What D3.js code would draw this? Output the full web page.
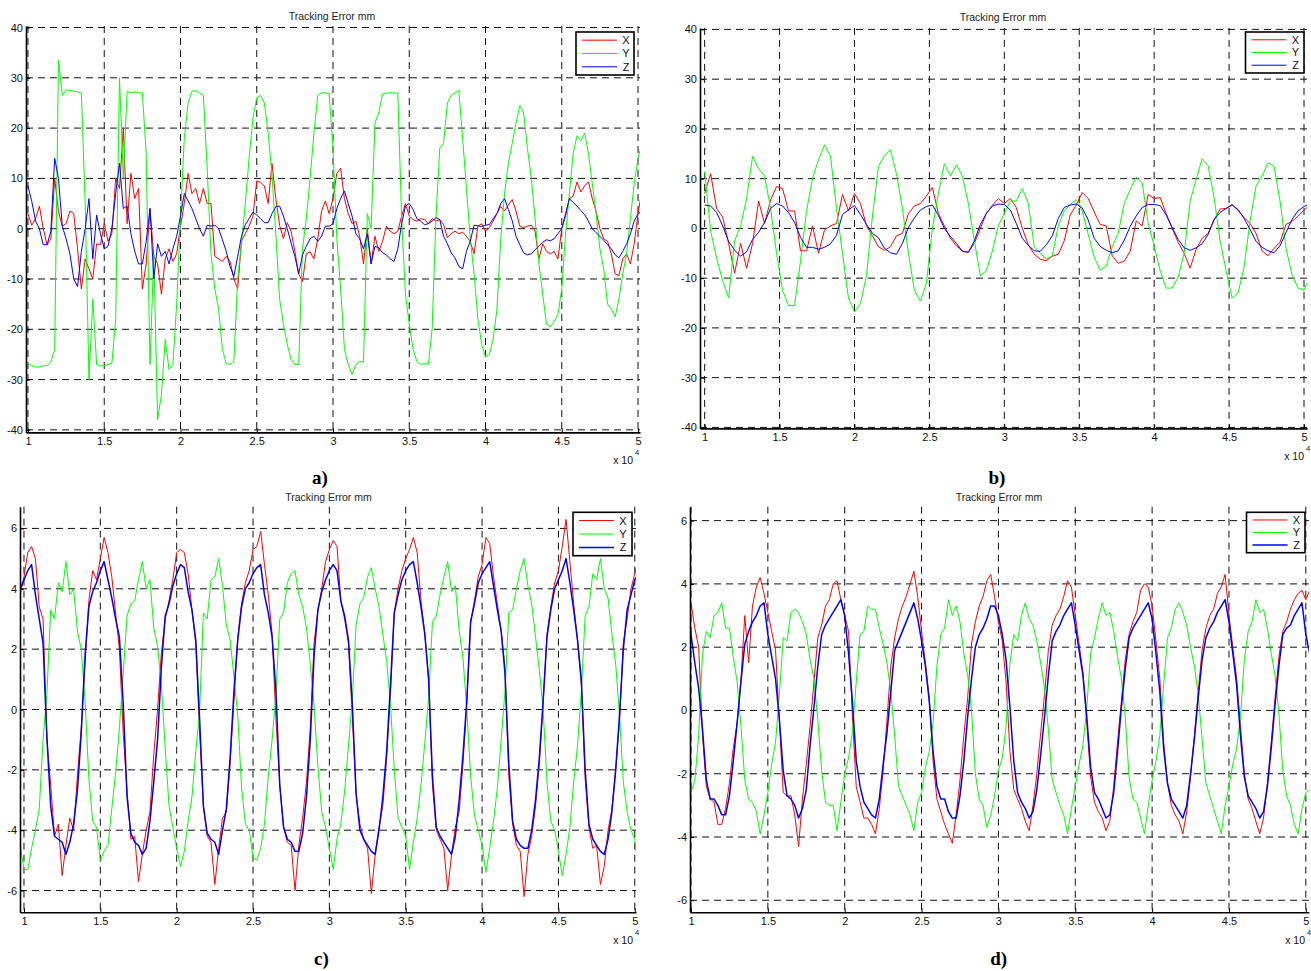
<!DOCTYPE html>
<html>
<head>
<meta charset="utf-8">
<script src="https://cdn.jsdelivr.net/npm/d3@7"></script>
<style>
  body { margin: 0; background: #fff; }
  text { font-family: "Liberation Sans", Arial, sans-serif; }
</style>
</head>
<body>
<script>
var w = 1311,
  h = 971;

// sample grids (x in units of 1e4)
var startA = 1.0, stepA = 0.025;
var startB = 1.0, stepB = 0.04;
var startCD = 0.975, stepCD = 0.025;

var xTicks = [1, 1.5, 2, 2.5, 3, 3.5, 4, 4.5, 5];
var yTicksAB = [-40, -30, -20, -10, 0, 10, 20, 30, 40];
var yTicksCD = [-6, -4, -2, 0, 2, 4, 6];
var seriesNames = ['X', 'Y', 'Z'];
var seriesColors = ['#ff0000', '#00ff00', '#0000ff'];

// panel a
var errXa = [3, 0.7, 2, 4.5, 0, -3.2, -2, 10, 3.4, 0.5, 1, 3.5, 3, -4, -12, -6, -8, -10, -3, -3.2,
  1, -2.5, -1, 10, 8, 20, 1, 11, 6, 8, -12, -7, 4, -5.5, -7, -13, -6, -4, -6.5, -5,
  0.5, 5, 11, 7, 8, 5, 8, 5, 5, -5.5, -6, -6.5, -5.5, -6.5, -10, -12, -2.5, -1, 0.5, 2.5,
  9.5, 9.2, 8.5, 5, 13, 6, 0.7, -2, 1.2, -0.5, -4.5, -9, -10.5, -5, -4.6, -6, -2, 3.5, 5.5, 3,
  6, 11, 12, 6, 3, 1, 1.5, -1.5, -7, 0, -7, -1.5, -4.5, -2.5, 0.5, -0.5, -1, -0.5, 2.5, 5,
  2.5, 1.8, 1.5, 2, 1.8, 1, 2, 1.5, 1.8, 0.8, -1.8, -1, -0.5, -1, -0.7, -1.5, -2.6, -5, 0.5, 1,
  -0.5, 0.2, 1.5, 3, 4.4, 3.5, 4.7, 5.8, 3.5, 0.5, 0.2, 0.5, 0.7, -0.5, -6, -3, -4.5, -5, -4.5, -6,
  0, 2.5, 6, 6.5, 9.3, 7.3, 8.5, 9.3, 6, 3.5, 0, -2, -2.5, -5, -9, -9.3, -6, -5, -7, -3,
  3, 7.5];
var errYa = [-26.8, -27.2, -27.5, -27.5, -27.3, -27.2, -26.5, -24, 33.5, 26.5, 27.6, 27.5, 27.3, 27.2, 27, 5, -30, -14, -27, -27.3,
  -27.2, -27, -26.8, -18, 30, 10, 27.3, 27, 27.2, 27, 27, 15, -27, -5, -38, -33, -22, -28, -27, -15,
  2, 18, 25, 27.3, 27.5, 27, 26.5, 12, -5, -12, -16, -24, -26.8, -27, -26.4, -10, -3, 5, 14, 22,
  26, 26.5, 25, 19, 10.7, -1, -14, -19, -23, -26, -27, -27, -4, 2, 10, 19, 26.5, 27, 27, 26.8,
  16, -2, -12, -24, -27, -29, -27, -26.4, -26.5, 3, 0, 21, 23, 26.8, 27, 27, 27, 27, 2, -13,
  -19, -24, -26.4, -27, -26.8, -27, -20, 2, 16, 17, 25, 26.5, 27, 27.5, 18, 8, -2, -9, -18, -23,
  -25.5, -25, -22, -16, -2, 7, 13, 17, 21, 24.5, 23, 16, 10, 2, -7, -13, -19, -19.5, -18.5, -17,
  -12, -1, 7, 15, 18.5, 17.5, 19, 15, 9, 3, -4, -8, -15, -16, -17.5, -14, -9, -5, 2, 9,
  14, 17];
var errZa = [8.5, 5.4, 1.5, 0, -3.2, -3.2, -0.5, 14, 10, 0.5, -2, -5, -10, -11.5, -4.5, 0, 6, -6, 2.7, -1,
  -4, -3.5, 0, 7, 13, 4, 4.5, -1, -4.5, -7, -7, -2.5, 4, -10, -3, -5.5, -4.5, -7, -4, -1.5,
  2.5, 7, 5.5, 4, 2, 0, -1.5, 0.7, 0.5, 0.7, 0, -2.2, -4.5, -7.5, -9.5, -5.5, -1.5, 0.8, 2, 3.3,
  2.7, 2, 1.2, 1.2, 3, 4.4, 4.5, 2.5, 0, -2.8, -5.5, -9, -5.2, -3.5, -2, -1.5, -2.5, -1.5, 0.5, 0.5,
  1, 4, 6, 7.5, 5, 2.5, -1, -2, -4, -1, -7, -3.5, -3.8, -4.8, -5.2, -6, -6.5, -4, 1, 4.5,
  5, 3.8, 2, 1.5, 0.8, 1, 1.5, 2.2, 1.8, -1.5, -3, -4.8, -5.8, -7.5, -8, -4.5, -2.5, 0.7, 0.6, 0.4,
  0.7, 0.8, 2, 3, 5, 6, 3.8, 1.6, -1.5, -3.2, -4.8, -5.2, -5, -4.2, -3.5, -2.7, -2.2, -2.4, -2, -1,
  0, 3, 6, 5.2, 4.5, 3.6, 2.8, 1.5, 0, -0.8, -1.5, -2.3, -3.2, -4, -5.2, -5.8, -4.5, -3, -1, 1.5,
  3, 3.4];

// panel b
var errXb = [7, 11, 4, 2.3, -3, -9, -3, -8, -3, 5.5, 1, 5.7, 8.4, 8, 3.5, 3.5, -4.5, -4.5, 0.5, -5, -0.3, 0.5, 1, 6.8, 3.5,
  7, 5, 0.5, -1.5, -3.7, -4.4, -3.7, -1.5, -1, 3, 4.5, 5, 6.5, 8.2, 3, 0.5, -2, -3.5, -4.5, -4.8, -3, 0, 3, 4.6, 6,
  5, 6, 4.2, 0, -3.3, -5.2, -6.2, -6.5, -5.6, -5.2, -2.5, 2.7, 4.7, 7.2, 6, 3.3, 0.8, 0.5, -5.5, -7, -6.6, -4.6, 1.5, 0.5, 6.8,
  6, 6.2, 3, 0, -2.8, -5, -8, -4.2, -2, -1, 1.7, 3.9, 4, 4.8, 3.6, 2.2, 1, -1, -4.5, -5.5, -4, -2.8, 0.8, 1.4, 2.5,
  3.7, 4.7];
var errYb = [11.4, -0.5, -6, -10.5, -14, -2.5, 0.5, 6, 14.5, 12, 10.5, 4, -5, -12.5, -15.5, -15.5, -6.5, 3.5, 10, 13.8, 16.8, 14.5, 4, -5, -14,
  -16.8, -15.1, -9.5, 2.5, 12.5, 14.6, 15.8, 11, 4, -5, -12.5, -14.6, -11, 0, 7, 13, 10.5, 12.8, 10.5, 5, -2.5, -9.5, -8.5, -4.6, 0.5,
  3, 5.5, 5.5, 8, 5, -3.7, -5, -6.2, -5.5, 0.5, 3.5, 4.8, 5.8, 3.5, -1.2, -5.8, -8.4, -7.6, -3.7, -1, 5, 7.8, 10.3, 9.2, 1,
  -3.5, -8.5, -12, -12, -9.8, -5, 5.5, 9.8, 14, 12.6, 6.2, -2.5, -8.5, -14, -13, -7.8, 1.5, 8.5, 10.5, 13.2, 12.5, 5.5, -4, -9.3, -12,
  -12.4, -9.7];
var errZb = [4.7, 4.5, 3.2, 0.5, -2.6, -4.4, -5.6, -4.7, -2.2, -0.8, 1.2, 4, 5, 4.5, 3.2, 1.2, -1.8, -3.8, -3.8, -4.2, -3.8, -3.1, -1.4, 2.8, 3.7,
  4.6, 2.8, 0.8, -1, -1.9, -4, -4.9, -5.2, -3, 0.2, 2.1, 3.7, 4.4, 4.7, 2.6, 0, -1.6, -3, -4.6, -4.8, -2.5, 0.8, 3, 4.5, 4.9,
  4.8, 3.7, 1, -2, -3.4, -4.5, -4.6, -3.3, -1.5, 2, 4.2, 4.7, 4.9, 4.1, 1.7, -2, -3.6, -4.4, -4.9, -4.5, -2.4, 0.4, 2.5, 4.2, 4.8,
  4.8, 4.6, 2.7, 0.2, -2.2, -3.9, -4.4, -3.9, -3.1, -1.2, 1.8, 3.2, 4, 4.7, 3.8, 2, -0.2, -2.6, -3.8, -4.5, -4.9, -3.5, -0.8, 1.8, 3.5,
  4.4, 5];

// panel c
var errXc = [3.8,
  4.4, 5.2, 5.4, 5.0, 3.4, 3.0, -1.0, -2.5, -4.2, -3.8, -5.5, -4.5, -3.6, -4.0, -2.2, -0.6, 1.5, 3.6, 4.6, 4.3,
  5.0, 5.7, 5.2, 4.4, 3.2, 2.0, -0.8, -2.7, -4.3, -4.2, -5.7, -4.8, -4.0, -3.4, -1.5, 0, 1.9, 3.0, 3.6, 4.3,
  5.2, 5.3, 5.2, 4.5, 3.3, 2.2, -0.7, -3.2, -4.2, -4.4, -5.8, -4.6, -3.6, -3.4, -1.8, 0.3, 2.4, 3.5, 4.2, 4.6,
  5.3, 5.4, 5.9, 4.8, 3.8, 2.5, -0.3, -2.5, -3.9, -4.4, -4.5, -6.0, -4.5, -3.6, -2.4, -0.6, 2.2, 3.3, 4.0, 4.9,
  5.3, 5.6, 5.4, 3.6, 3.0, 2.2, -0.2, -2.8, -3.8, -4.3, -4.6, -6.1, -4.8, -3.9, -3.2, -1.6, 0.5, 3.2, 4.0, 4.6,
  5.0, 5.3, 5.7, 5.2, 3.6, 2.5, 1.0, -2.5, -4.0, -4.3, -4.6, -6.0, -4.8, -3.9, -3.4, -1.8, 0.2, 2.9, 3.6, 4.4,
  4.8, 5.7, 5.5, 4.4, 3.5, 2.6, 1.4, -2.2, -3.8, -4.5, -4.7, -6.2, -4.8, -4.2, -3.2, -1.8, 0.2, 2.5, 3.4, 4.2,
  4.6, 5.4, 6.3, 4.9, 3.5, 2.3, 0.8, -2.3, -3.9, -4.6, -4.5, -5.8, -5.2, -4.0, -3.3, -2.0, -0.4, 2.2, 3.0, 4.0,
  4.5, 5.0];
var errYc = [-4.5,
  -5.3, -5.3, -4.6, -4.0, -3.3, -1.0, 0.5, 3.3, 3.0, 4.2, 3.9, 4.9, 3.8, 4.0, 2.6, 2.0, 0.3, -2.3, -3.7, -3.9,
  -5.0, -4.7, -4.5, -3.3, -2.1, -0.6, 1.2, 3.1, 3.5, 3.6, 4.3, 4.9, 4.0, 4.3, 2.7, 2.1, 0.8, -1.3, -3.2, -3.9,
  -4.6, -5.2, -4.7, -3.7, -2.9, -1.4, -0.1, 3.2, 3.0, 4.3, 4.4, 5.0, 4.1, 2.8, 2.3, 1.1, -0.2, -2.6, -3.8, -4.0,
  -4.9, -5.0, -4.6, -3.8, -2.2, -1.0, 0.5, 3.0, 3.2, 4.2, 4.5, 4.6, 3.8, 3.4, 2.7, 1.5, 0.1, -1.9, -3.4, -3.9,
  -4.6, -5.3, -4.3, -3.8, -2.7, -1.2, 0.3, 2.8, 3.5, 3.7, 4.4, 4.7, 4.0, 3.4, 2.5, 1.6, 0.2, -2.0, -3.6, -3.9,
  -4.2, -5.3, -4.4, -3.6, -2.5, -1.1, 0.4, 2.9, 3.1, 3.8, 4.4, 4.9, 3.9, 4.1, 2.6, 1.7, 0.0, -2.2, -3.5, -4.0,
  -4.5, -5.4, -4.6, -3.7, -2.6, -1.0, 0.6, 3.2, 3.3, 4.0, 4.6, 5.0, 4.1, 3.5, 2.4, 1.3, 0.0, -2.4, -3.7, -4.0,
  -4.7, -5.5, -4.8, -3.9, -2.4, -1.2, 0.6, 3.1, 3.4, 4.5, 4.3, 5.0, 4.0, 3.7, 2.5, 1.5, -0.2, -2.4, -3.4, -4.0,
  -4.3, -5.4];
var errZc = [4.0,
  4.3, 4.6, 4.8, 3.8, 3.0, 2.2, -0.9, -3.2, -4.2, -4.3, -4.4, -4.8, -4.4, -3.8, -2.7, -0.8, 1.8, 3.4, 3.9, 4.2,
  4.6, 4.9, 4.3, 3.7, 3.0, 2.4, 0.2, -2.9, -4.1, -4.4, -4.5, -4.8, -4.6, -3.7, -2.4, -1.0, 1.4, 3.1, 3.5, 4.1,
  4.5, 4.8, 4.7, 3.9, 3.3, 2.3, -0.3, -3.2, -4.1, -4.3, -4.4, -4.8, -4.0, -3.3, -1.6, 0.6, 2.3, 3.4, 4.0, 4.2,
  4.5, 4.7, 4.8, 3.8, 3.2, 2.4, 0.6, -2.5, -3.9, -4.3, -4.4, -4.7, -4.7, -4.1, -2.9, -1.0, 1.8, 3.3, 3.9, 4.3,
  4.6, 4.8, 4.6, 3.6, 3.1, 2.3, 0.2, -2.8, -4.0, -4.3, -4.5, -4.7, -4.8, -4.0, -2.9, -1.4, 0.8, 3.2, 3.8, 4.3,
  4.6, 4.8, 4.9, 4.2, 3.4, 2.5, 1.0, -2.2, -3.9, -4.2, -4.4, -4.6, -4.8, -4.2, -3.0, -1.5, 0.3, 2.9, 3.5, 4.2,
  4.5, 4.7, 4.9, 4.1, 3.3, 2.6, 1.2, -1.8, -3.7, -4.3, -4.5, -4.6, -4.6, -4.0, -3.0, -1.6, 0.3, 2.4, 3.3, 4.0,
  4.3, 4.6, 5.0, 4.2, 3.3, 2.3, 1.0, -2.0, -3.8, -4.3, -4.5, -4.7, -4.8, -4.3, -3.4, -2.0, -0.2, 2.0, 3.3, 3.8,
  4.3, 4.5];

// panel d
var errXd = [3.3,
  3.4, 2.6, 2.0, -0.8, -2.4, -2.8, -2.9, -3.6, -3.6, -3.1, -2.3, -1.2, -0.4, 1.0, 3.0, 1.5, 3.3, 3.9, 4.2, 3.7,
  3.1, 2.5, 1.9, -0.3, -2.6, -2.7, -2.7, -3.3, -4.3, -2.8, -1.7, -0.5, 0.9, 2.3, 2.7, 3.3, 3.5, 4.0, 4.1, 3.5,
  3.0, 2.5, -0.2, -2.4, -2.9, -3.4, -3.4, -3.6, -3.9, -3.1, -1.9, -0.3, 1.4, 2.3, 2.9, 3.3, 3.6, 4.0, 4.4, 3.6,
  2.5, 1.5, 0.4, -1.6, -2.8, -3.2, -3.6, -3.9, -4.2, -3.3, -2.2, -0.8, 0.4, 2.1, 2.8, 3.3, 3.6, 4.1, 4.3, 3.6,
  2.8, 2.2, 0.9, -1.3, -2.5, -2.8, -3.1, -3.5, -3.8, -3.0, -2.0, -0.7, 0.5, 1.9, 2.7, 3.0, 3.2, 3.6, 4.1, 3.9,
  3.0, 2.1, 1.2, -0.4, -2.1, -2.9, -3.2, -3.4, -3.8, -3.5, -2.4, -1.0, 0.3, 1.6, 2.4, 2.8, 3.1, 3.8, 4.0, 3.9,
  3.3, 2.2, 1.0, -1.0, -2.3, -3.0, -3.3, -3.5, -3.9, -3.2, -2.1, -0.8, 0.6, 1.9, 2.6, 3.0, 3.2, 3.7, 3.9, 4.3,
  3.0, 2.0, 1.0, -0.5, -2.0, -2.8, -3.1, -3.5, -3.9, -3.4, -2.3, -1.0, 0.4, 1.7, 2.5, 2.8, 3.2, 3.5, 3.7, 3.8,
  3.5, 3.8];
var errYd = [-3.3,
  -2.6, -2.2, -0.8, 1.8, 2.5, 2.3, 3.0, 3.1, 3.4, 2.6, 2.6, 1.7, 0.9, -0.5, -2.2, -2.8, -2.9, -3.2, -3.9, -3.3,
  -2.6, -1.7, -1.0, 0.5, 2.3, 2.2, 3.1, 3.2, 3.1, 2.8, 2.4, 1.6, 1.0, -0.3, -1.9, -2.9, -3.0, -3.0, -3.8, -2.9,
  -2.0, -1.5, -0.7, 0.9, 2.4, 2.5, 3.3, 3.2, 3.2, 2.6, 2.1, 1.5, 0.6, -0.8, -2.4, -2.7, -3.0, -3.3, -3.8, -2.9,
  -2.6, -1.8, -1.3, -0.4, 1.4, 2.4, 2.6, 3.5, 3.0, 3.3, 2.8, 1.8, 1.1, 0.0, -2.0, -2.8, -3.0, -3.7, -3.3, -2.7,
  -1.9, -1.5, -0.5, 1.5, 2.4, 2.2, 3.0, 3.4, 2.9, 2.7, 2.2, 1.5, 0.7, -0.6, -2.2, -2.6, -3.0, -3.3, -3.9, -3.1,
  -2.4, -1.7, -1.1, 0.1, 1.8, 2.3, 2.9, 3.4, 3.0, 3.1, 2.5, 1.7, 1.0, -0.2, -2.1, -2.8, -2.9, -3.4, -3.9, -3.0,
  -2.2, -1.6, -0.8, 0.8, 2.3, 2.6, 3.2, 3.4, 3.1, 2.7, 2.0, 1.4, 0.5, -0.9, -2.3, -2.7, -3.1, -3.5, -3.9, -3.0,
  -2.4, -1.7, -1.2, -0.2, 1.6, 2.5, 2.8, 3.5, 3.1, 3.2, 2.6, 1.8, 1.1, -0.1, -1.9, -2.7, -3.0, -3.6, -3.9, -3.1,
  -2.6, -2.5];
var errZd = [3.3,
  2.4, 1.5, 0.7, -0.6, -2.2, -2.8, -2.8, -3.0, -3.3, -3.3, -2.7, -1.6, -0.4, 0.9, 2.1, 2.5, 2.8, 3.0, 3.3, 3.4,
  2.4, 1.7, 1.0, -0.3, -1.9, -2.7, -2.8, -3.0, -3.4, -3.1, -2.5, -1.1, 0.1, 1.4, 2.4, 2.7, 2.9, 3.1, 3.3, 3.5,
  3.0, 1.8, 0.3, -1.6, -2.4, -2.9, -3.1, -3.3, -3.4, -2.8, -1.7, -0.7, 0.6, 1.9, 2.2, 2.5, 2.8, 3.1, 3.4, 2.9,
  2.2, 1.4, 0.3, -1.3, -2.4, -2.8, -2.8, -3.2, -3.4, -3.4, -2.7, -1.6, -0.2, 1.0, 2.0, 2.4, 2.6, 2.9, 3.3, 3.3,
  3.0, 2.4, 1.6, 0.1, -1.6, -2.6, -2.9, -3.1, -3.4, -3.2, -2.5, -1.4, -0.2, 1.1, 2.2, 2.5, 2.7, 3.0, 3.2, 3.4,
  2.7, 1.9, 1.1, -0.2, -1.8, -2.6, -2.8, -3.1, -3.4, -3.3, -2.6, -1.3, 0.1, 1.3, 2.3, 2.6, 2.8, 3.0, 3.2, 3.4,
  2.9, 1.8, 0.6, -1.2, -2.3, -2.8, -3.0, -3.2, -3.4, -3.0, -2.0, -0.9, 0.4, 1.6, 2.3, 2.6, 2.8, 3.1, 3.3, 3.5,
  2.8, 1.8, 0.8, -0.8, -2.1, -2.7, -2.9, -3.1, -3.4, -3.2, -2.4, -1.2, 0.2, 1.4, 2.4, 2.6, 2.7, 3.0, 3.2, 3.4,
  2.4, 1.8];

var panels = [
  { key: 'a', caption: 'a)', left: 26, right: 640, top: 26, bottom: 432.4,
    xDomain: [0.987, 5.013], yDomain: [-40.5, 40.3], yTicks: yTicksAB,
    start: startA, step: stepA, series: [errXa, errYa, errZa], widths: [1, 1, 1],
    titleX: 332, titleY: 20, capX: 320, capY: 484, expX: 633,
    legend: { x: 576, y: 32, w: 58, h: 43 } },
  { key: 'b', caption: 'b)', left: 700, right: 1307, top: 27.9, bottom: 428.4,
    xDomain: [0.969, 5.02], yDomain: [-40.2, 40.3], yTicks: yTicksAB,
    start: startB, step: stepB, series: [errXb, errYb, errZb], widths: [1, 1, 1],
    titleX: 1003, titleY: 21, capX: 997, capY: 484, expX: 1304,
    legend: { x: 1245.5, y: 32, w: 58.5, h: 41 } },
  { key: 'c', caption: 'c)', left: 20, right: 636, top: 506.7, bottom: 912.3,
    xDomain: [0.974, 5.008], yDomain: [-6.72, 6.72], yTicks: yTicksCD,
    start: startCD, step: stepCD, series: [errXc, errYc, errZc], widths: [1, 1, 1.5],
    titleX: 328.5, titleY: 501, capX: 321.5, capY: 965, expX: 633,
    legend: { x: 573, y: 512.3, w: 59, h: 43.4 } },
  { key: 'd', caption: 'd)', left: 690, right: 1308.9, top: 506.7, bottom: 912.3,
    xDomain: [0.9935, 5.02], yDomain: [-6.38, 6.44], yTicks: yTicksCD,
    start: startCD, step: stepCD, series: [errXd, errYd, errZd], widths: [1, 1, 1.5],
    titleX: 999, titleY: 501, capX: 998.6, capY: 965, expX: 1305,
    legend: { x: 1246.5, y: 512.3, w: 58.5, h: 40.4 } }
];

var svg = d3.select('body').append('svg')
  .attr('width', w)
  .attr('height', h)
  .style('display', 'block');

svg.append('rect').attr('width', w).attr('height', h).attr('fill', '#fff');

panels.forEach(function (p) {
  var x = d3.scaleLinear().domain(p.xDomain).range([p.left, p.right]);
  var y = d3.scaleLinear().domain(p.yDomain).range([p.bottom, p.top]);
  var g = svg.append('g').attr('class', 'panel-' + p.key);

  g.append('clipPath').attr('id', 'clip-' + p.key)
    .append('rect')
    .attr('x', p.left).attr('y', p.top)
    .attr('width', p.right - p.left).attr('height', p.bottom - p.top);

  // dashed grid
  g.selectAll('.hgrid').data(p.yTicks).enter().append('line')
    .attr('x1', p.left).attr('x2', p.right)
    .attr('y1', d => y(d)).attr('y2', d => y(d))
    .attr('stroke', '#111').attr('stroke-width', 1)
    .attr('stroke-dasharray', '7,5');
  g.selectAll('.vgrid').data(xTicks).enter().append('line')
    .attr('x1', d => x(d)).attr('x2', d => x(d))
    .attr('y1', p.top).attr('y2', p.bottom)
    .attr('stroke', '#111').attr('stroke-width', 1)
    .attr('stroke-dasharray', '7,5');

  // data lines
  var lines = g.append('g').attr('clip-path', 'url(#clip-' + p.key + ')');
  p.series.forEach(function (vals, k) {
    var line = d3.line()
      .x((d, i) => x(p.start + i * p.step))
      .y(d => y(d));
    lines.append('path')
      .datum(vals)
      .attr('fill', 'none')
      .attr('stroke', seriesColors[k])
      .attr('stroke-width', p.widths[k])
      .attr('stroke-linejoin', 'round')
      .attr('d', line);
  });

  // axes
  var yAxis = g.append('g')
    .attr('transform', 'translate(' + p.left + ',0)')
    .call(d3.axisLeft(y).tickValues(p.yTicks).tickSize(-4).tickSizeOuter(0).tickPadding(3)
      .tickFormat(d => String(d)));
  var xAxis = g.append('g')
    .attr('transform', 'translate(0,' + p.bottom + ')')
    .call(d3.axisBottom(x).tickValues(xTicks).tickSize(-4).tickSizeOuter(0).tickPadding(5)
      .tickFormat(d => String(d)));
  [yAxis, xAxis].forEach(function (a) {
    a.select('.domain').attr('stroke', '#000').attr('stroke-width', 1.6);
    a.selectAll('.tick line').attr('stroke', '#000');
    a.selectAll('text')
      .attr('fill', '#111')
      .style('font-size', '11px')
      .style('font-family', '"Liberation Sans", Arial, sans-serif');
  });

  // title
  g.append('text')
    .attr('x', p.titleX).attr('y', p.titleY)
    .attr('text-anchor', 'middle')
    .attr('fill', '#222')
    .style('font-size', '10.5px')
    .text('Tracking Error mm');

  // exponent label
  g.append('text')
    .attr('x', p.expX).attr('y', p.bottom + 31.5)
    .attr('text-anchor', 'end')
    .attr('fill', '#111')
    .style('font-size', '10.5px')
    .text('x 10');
  g.append('text')
    .attr('x', p.expX + 2).attr('y', p.bottom + 23)
    .attr('fill', '#111')
    .style('font-size', '7.5px')
    .text('4');

  // caption
  g.append('text')
    .attr('x', p.capX).attr('y', p.capY)
    .attr('text-anchor', 'middle')
    .attr('fill', '#000')
    .style('font-family', '"Liberation Serif", "Times New Roman", serif')
    .style('font-weight', 'bold')
    .style('font-size', '19px')
    .text(p.caption);

  // legend
  var lg = g.append('g').attr('transform', 'translate(' + p.legend.x + ',' + p.legend.y + ')');
  lg.append('rect')
    .attr('width', p.legend.w).attr('height', p.legend.h)
    .attr('fill', '#fff').attr('stroke', '#000').attr('stroke-width', 1.6);
  seriesNames.forEach(function (name, k) {
    var ry = p.legend.h * (0.19 + 0.31 * k);
    lg.append('line')
      .attr('x1', 6).attr('x2', 41).attr('y1', ry).attr('y2', ry)
      .attr('stroke', seriesColors[k]).attr('stroke-width', k === 2 && p.widths[2] > 1 ? 1.6 : 1);
    lg.append('text')
      .attr('x', 50).attr('y', ry).attr('dy', '0.36em')
      .attr('text-anchor', 'middle')
      .attr('fill', '#111')
      .style('font-size', '11px')
      .text(name);
  });
});
</script>
</body>
</html>
